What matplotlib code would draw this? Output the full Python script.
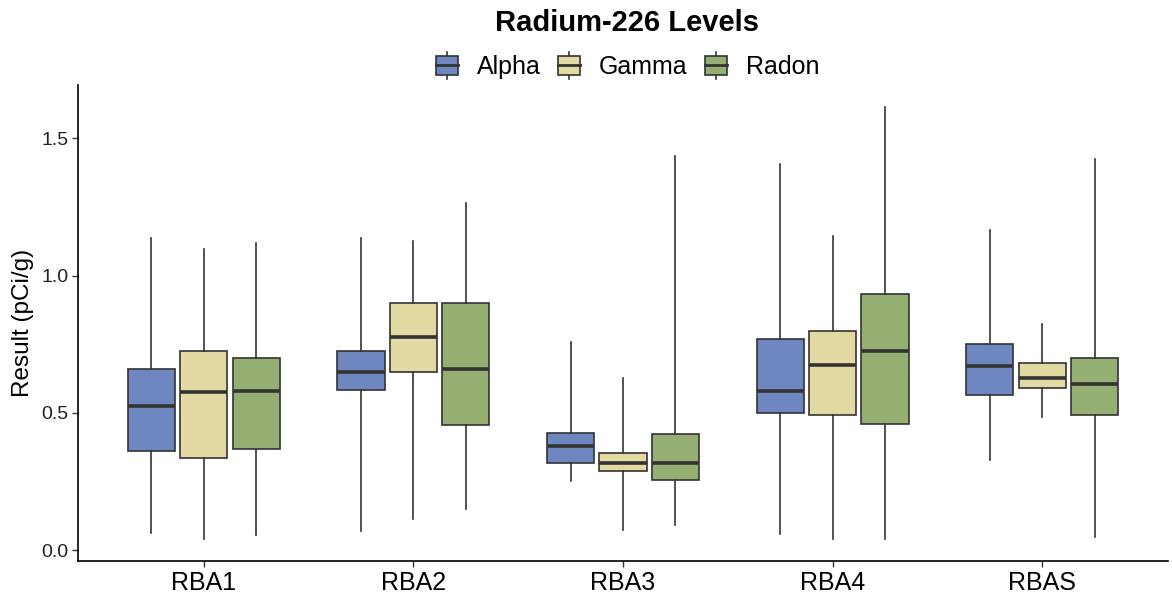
import matplotlib
matplotlib.use("Agg")
import matplotlib.pyplot as plt
from matplotlib.patches import Rectangle
from matplotlib.lines import Line2D
from matplotlib.legend_handler import HandlerBase

plt.rcParams['font.family'] = ['Liberation Sans', 'DejaVu Sans']

# Summary statistics per site (pCi/g): lower whisker, Q1, median, Q3, upper whisker
sites = ["RBA1", "RBA2", "RBA3", "RBA4", "RBAS"]
methods = ["Alpha", "Gamma", "Radon"]

alpha_low = [0.064, 0.069, 0.251, 0.060, 0.329]
alpha_q1 = [0.361, 0.584, 0.317, 0.501, 0.565]
alpha_med = [0.527, 0.650, 0.380, 0.581, 0.670]
alpha_q3 = [0.659, 0.725, 0.426, 0.768, 0.751]
alpha_high = [1.136, 1.136, 0.760, 1.407, 1.167]

gamma_low = [0.040, 0.113, 0.075, 0.041, 0.485]
gamma_q1 = [0.337, 0.648, 0.288, 0.493, 0.590]
gamma_med = [0.576, 0.775, 0.317, 0.674, 0.627]
gamma_q3 = [0.727, 0.902, 0.353, 0.799, 0.681]
gamma_high = [1.096, 1.126, 0.626, 1.145, 0.823]

radon_low = [0.054, 0.151, 0.091, 0.041, 0.048]
radon_q1 = [0.369, 0.456, 0.257, 0.461, 0.494]
radon_med = [0.580, 0.659, 0.318, 0.726, 0.605]
radon_q3 = [0.701, 0.902, 0.424, 0.932, 0.701]
radon_high = [1.118, 1.265, 1.437, 1.616, 1.425]

series = {
    "Alpha": (alpha_low, alpha_q1, alpha_med, alpha_q3, alpha_high),
    "Gamma": (gamma_low, gamma_q1, gamma_med, gamma_q3, gamma_high),
    "Radon": (radon_low, radon_q1, radon_med, radon_q3, radon_high),
}
colors = {"Alpha": "#6E87C0", "Gamma": "#E3D9A2", "Radon": "#95AF72"}
edge = "#333333"

fig = plt.figure(figsize=(11.72, 5.99), dpi=100)
ax = fig.add_axes([0.0666, 0.0634, 0.930, 0.795])

offsets = [-0.25, 0.0, 0.25]
width = 0.225
for m, off in zip(methods, offsets):
    lo, q1, med, q3, hi = series[m]
    stats = [dict(whislo=lo[i], q1=q1[i], med=med[i], q3=q3[i], whishi=hi[i],
                  fliers=[], label=sites[i]) for i in range(len(sites))]
    ax.bxp(stats, positions=[i + 1 + off for i in range(len(sites))],
           widths=width, patch_artist=True, showcaps=False, showfliers=False,
           boxprops=dict(facecolor=colors[m], edgecolor=edge, linewidth=1.2),
           whiskerprops=dict(color=edge, linewidth=1.2),
           medianprops=dict(color=edge, linewidth=2.6, solid_capstyle='butt'),
           manage_ticks=False, zorder=2)

ax.set_xlim(0.4, 5.6)
ax.set_ylim(-0.039, 1.695)
ax.set_xticks(range(1, len(sites) + 1))
ax.set_xticklabels(sites, fontsize=18, color="black")
ax.set_yticks([0.0, 0.5, 1.0, 1.5])
ax.set_yticklabels(["0.0", "0.5", "1.0", "1.5"], fontsize=14, color="#222222")
ax.set_ylabel("Result (pCi/g)", fontsize=17.5, labelpad=5)
for s in ["top", "right"]:
    ax.spines[s].set_visible(False)
for s in ["left", "bottom"]:
    ax.spines[s].set_linewidth(1.2)
    ax.spines[s].set_color("black")
ax.tick_params(axis="both", length=4, width=1.0, color="#333333", direction="out", pad=3)


class BoxKeyHandler(HandlerBase):
    def __init__(self, face):
        super().__init__()
        self.face = face

    def create_artists(self, legend, orig_handle, xdescent, ydescent,
                       width, height, fontsize, trans):
        bw = width * 0.87
        bx = xdescent + (width - bw) / 2
        bh = height
        by = -ydescent
        cx = bx + bw / 2
        ext = height * 0.18
        artists = [
            Line2D([cx, cx], [by - ext, by + bh + ext],
                   color=edge, linewidth=1.2, transform=trans),
            Rectangle((bx, by), bw, bh, facecolor=self.face, edgecolor=edge,
                      linewidth=1.2, transform=trans),
            Line2D([bx, bx + bw], [by + bh / 2, by + bh / 2],
                   color=edge, linewidth=2.0, transform=trans),
        ]
        return artists


handles = [Rectangle((0, 0), 1, 1, label=m) for m in methods]
fig.legend(handles=handles, labels=methods, loc="center",
           bbox_to_anchor=(0.535, 0.888), ncol=3, frameon=False, fontsize=18,
           handlelength=1.0, handleheight=0.82, handletextpad=0.7,
           columnspacing=0.62, borderpad=0.2,
           handler_map={h: BoxKeyHandler(colors[m]) for h, m in zip(handles, methods)})

fig.text(0.535, 0.962, "Radium-226 Levels", ha="center", va="center",
         fontsize=21, fontweight="bold")

fig.savefig("out.png", dpi=100)
